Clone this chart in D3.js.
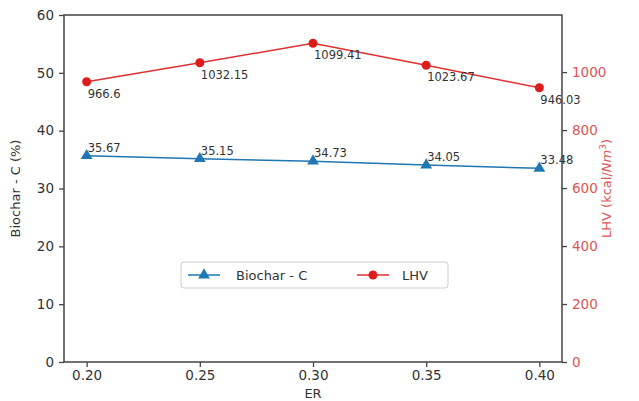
<!DOCTYPE html>
<html><head><meta charset="utf-8">
<script src="https://cdn.jsdelivr.net/npm/d3@7"></script>
<style>body{margin:0;background:#fff;} text{font-family:"DejaVu Sans",sans-serif;}</style>
</head><body>
<svg id="c" width="639" height="401"></svg>
<script>
const er = [0.20, 0.25, 0.30, 0.35, 0.40];
const biocharC = [35.67, 35.15, 34.73, 34.05, 33.48];
const lhv = [966.6, 1032.15, 1099.41, 1023.67, 946.03];
const xTicks = [0.20, 0.25, 0.30, 0.35, 0.40];
const leftTicks = [0, 10, 20, 30, 40, 50, 60];
const rightTicks = [0, 200, 400, 600, 800, 1000];

const svg = d3.select("#c");
const L = 64, R = 562, T = 15, B = 362;
const x = d3.scaleLinear().domain([0.19, 0.41]).range([L, R]);
const yL = d3.scaleLinear().domain([0, 60]).range([B, T]);
const yR = d3.scaleLinear().domain([0, 1197]).range([B, T]);
const axisCol = "#444", red = "#e03030", blue = "#1f77b4", redTxt = "#e05555";

svg.append("rect").attr("x", L).attr("y", T).attr("width", R - L).attr("height", B - T)
  .attr("fill", "none").attr("stroke", axisCol).attr("stroke-width", 1.5);

function styleAxis(g, col) {
  g.select(".domain").remove();
  g.selectAll(".tick line").attr("stroke", axisCol).attr("stroke-width", 1.3);
  g.selectAll(".tick text").attr("fill", col).style("font-size", "13.5px").style("font-family", "DejaVu Sans, sans-serif");
}
const gx = svg.append("g").attr("transform", `translate(0,${B})`)
  .call(d3.axisBottom(x).tickValues(xTicks).tickFormat(d3.format(".2f")).tickSize(5).tickPadding(3));
styleAxis(gx, "#333");
const gl = svg.append("g").attr("transform", `translate(${L},0)`)
  .call(d3.axisLeft(yL).tickValues(leftTicks).tickFormat(d3.format("d")).tickSize(5).tickPadding(5));
styleAxis(gl, "#333");
const gr = svg.append("g").attr("transform", `translate(${R},0)`)
  .call(d3.axisRight(yR).tickValues(rightTicks).tickFormat(d3.format("d")).tickSize(5).tickPadding(5));
styleAxis(gr, redTxt);

svg.append("text").attr("x", (L + R) / 2).attr("y", 398).attr("text-anchor", "middle")
  .attr("fill", "#333").style("font-size", "13px").text("ER");
svg.append("text").attr("transform", `translate(20,${(T + B) / 2}) rotate(-90)`).attr("text-anchor", "middle")
  .attr("fill", "#333").style("font-size", "13px").text("Biochar - C (%)");
const rt = svg.append("text").attr("transform", `translate(611,${(T + B) / 2}) rotate(-90)`).attr("text-anchor", "middle")
  .attr("fill", redTxt).style("font-size", "13px");
rt.append("tspan").text("LHV (kcal/");
rt.append("tspan").style("font-style", "italic").text("Nm");
rt.append("tspan").attr("dy", -5).style("font-size", "9px").text("3");
rt.append("tspan").attr("dy", 5).text(")");

const lineB = d3.line().x((d, i) => x(er[i])).y(d => yL(d));
const lineR = d3.line().x((d, i) => x(er[i])).y(d => yR(d));
svg.append("path").datum(biocharC).attr("d", lineB).attr("fill", "none").attr("stroke", blue).attr("stroke-width", 1.5);
svg.append("path").datum(lhv).attr("d", lineR).attr("fill", "none").attr("stroke", red).attr("stroke-width", 1.5);

const tri = d3.symbol().type(d3.symbolTriangle).size(60);
svg.selectAll(".tb").data(biocharC).enter().append("path")
  .attr("d", tri).attr("transform", (d, i) => `translate(${x(er[i])},${yL(d)})`).attr("fill", blue);
svg.selectAll(".cr").data(lhv).enter().append("circle")
  .attr("cx", (d, i) => x(er[i])).attr("cy", d => yR(d)).attr("r", 4.5).attr("fill", "#dd1c1c");

svg.selectAll(".lb").data(biocharC).enter().append("text")
  .attr("x", (d, i) => x(er[i]) + 1).attr("y", d => yL(d) - 4)
  .attr("fill", "#333").style("font-size", "11.5px").text(d => d.toFixed(2));
svg.selectAll(".lr").data(lhv).enter().append("text")
  .attr("x", (d, i) => x(er[i]) + 1).attr("y", d => yR(d) + 16)
  .attr("fill", "#333").style("font-size", "11.5px").text(d => String(d));

const lg = svg.append("g");
lg.append("rect").attr("x", 181).attr("y", 262).attr("width", 267).attr("height", 26).attr("rx", 3)
  .attr("fill", "#fff").attr("stroke", "#ccc").attr("stroke-width", 1);
lg.append("line").attr("x1", 188).attr("x2", 220).attr("y1", 275).attr("y2", 275).attr("stroke", blue).attr("stroke-width", 1.5);
lg.append("path").attr("d", tri).attr("transform", "translate(204,275)").attr("fill", blue);
lg.append("text").attr("x", 236).attr("y", 280).attr("fill", "#333").style("font-size", "13px").text("Biochar - C");
lg.append("line").attr("x1", 357).attr("x2", 389).attr("y1", 275).attr("y2", 275).attr("stroke", red).attr("stroke-width", 1.5);
lg.append("circle").attr("cx", 373).attr("cy", 275).attr("r", 4.5).attr("fill", "#dd1c1c");
lg.append("text").attr("x", 402).attr("y", 280).attr("fill", "#333").style("font-size", "13px").text("LHV");
</script>
</body></html>
